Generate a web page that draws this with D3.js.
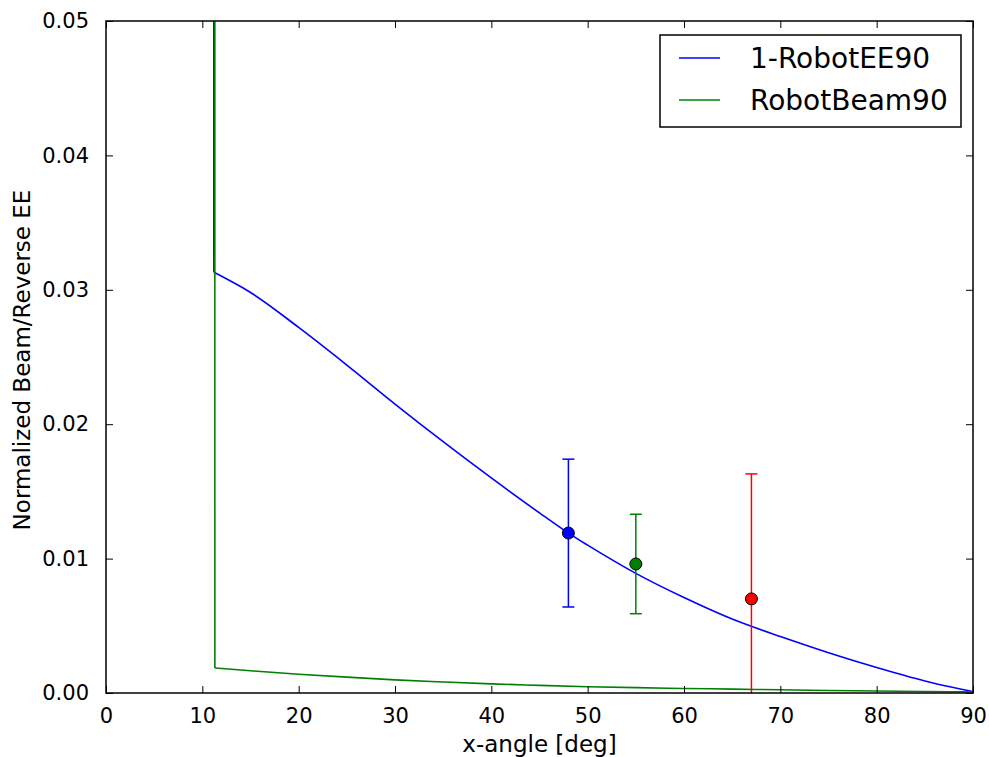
<!DOCTYPE html>
<html>
<head>
<meta charset="utf-8">
<script src="https://cdn.jsdelivr.net/npm/d3@7/dist/d3.min.js"></script>
<style>
  body { margin: 0; background: #ffffff; }
  text { font-family: "DejaVu Sans", sans-serif; fill: #000; }
</style>
</head>
<body>
<svg id="chart" width="989" height="757"></svg>
<script>
// Axis ticks
const xTicks = [0, 10, 20, 30, 40, 50, 60, 70, 80, 90];
const yTicks = [0, 0.01, 0.02, 0.03, 0.04, 0.05];
const yTickLabels = ["0.00", "0.01", "0.02", "0.03", "0.04", "0.05"];

// 1-RobotEE90 curve (angle in deg, value)
const eeAngle = [11.12, 11.2, 15, 20, 25, 30, 35, 40, 45, 48, 50, 55, 60, 65, 70, 75, 80, 85, 90];
const eeValue = [1.0, 0.0313, 0.0298, 0.0272, 0.0244, 0.0215, 0.0187, 0.0160, 0.0134, 0.0119, 0.0110, 0.0089, 0.0071, 0.0055, 0.0042, 0.0030, 0.0019, 0.0009, 0.0001];

// RobotBeam90 curve
const beamAngle = [11.22, 11.3, 15, 20, 25, 30, 35, 40, 45, 50, 55, 60, 65, 70, 75, 80, 85, 90];
const beamValue = [1.0, 0.00186, 0.00165, 0.00140, 0.00118, 0.00098, 0.00082, 0.00068, 0.00057, 0.00047, 0.00040, 0.00034, 0.00029, 0.00024, 0.00019, 0.00015, 0.00011, 0.00008];

// Measured points with symmetric error bars
const pointAngle = [48, 55, 67];
const pointValue = [0.0119, 0.0096, 0.0070];
const pointError = [0.0055, 0.0037, 0.0093];
const pointColor = ["#0000ff", "#008000", "#ff0000"];

// Legend entries
const seriesNames = ["1-RobotEE90", "RobotBeam90"];
const seriesColors = ["#0000ff", "#008000"];

const svg = d3.select("#chart");
const margin = { left: 106, top: 21, right: 16, bottom: 64 };
const W = 989 - margin.left - margin.right;
const H = 757 - margin.top - margin.bottom;

const x = d3.scaleLinear().domain([0, 90]).range([0, W]);
const y = d3.scaleLinear().domain([0, 0.05]).range([H, 0]);

const g = svg.append("g").attr("transform", `translate(${margin.left},${margin.top})`);

g.append("defs").append("clipPath").attr("id", "plotclip")
  .append("rect").attr("x", 0).attr("y", 0).attr("width", W).attr("height", H);

const plot = g.append("g").attr("clip-path", "url(#plotclip)");

const straight = d3.line().x(d => x(d[0])).y(d => y(d[1]));
const smooth = d3.line().x(d => x(d[0])).y(d => y(d[1])).curve(d3.curveMonotoneX);

// Each series: the steep drop at the cut-off angle, then the smooth tail
function drawSeries(angles, values, color) {
  const pts = d3.zip(angles, values);
  plot.append("path").datum(pts.slice(0, 2))
    .attr("d", straight).attr("fill", "none")
    .attr("stroke", color).attr("stroke-width", 1.6);
  plot.append("path").datum(pts.slice(1))
    .attr("d", smooth).attr("fill", "none")
    .attr("stroke", color).attr("stroke-width", 1.6);
}
drawSeries(eeAngle, eeValue, seriesColors[0]);
drawSeries(beamAngle, beamValue, seriesColors[1]);

// Error bars and markers
const pts = pointAngle.map((a, i) => ({ a, v: pointValue[i], e: pointError[i], c: pointColor[i] }));
const capHalf = 6;
const eb = plot.selectAll("g.eb").data(pts).enter().append("g").attr("class", "eb");
eb.append("line")
  .attr("x1", d => x(d.a)).attr("x2", d => x(d.a))
  .attr("y1", d => y(d.v - d.e)).attr("y2", d => y(d.v + d.e))
  .attr("stroke", d => d.c).attr("stroke-width", 1.5);
eb.append("line")
  .attr("x1", d => x(d.a) - capHalf).attr("x2", d => x(d.a) + capHalf)
  .attr("y1", d => y(d.v + d.e)).attr("y2", d => y(d.v + d.e))
  .attr("stroke", d => d.c).attr("stroke-width", 1.5);
eb.append("line")
  .attr("x1", d => x(d.a) - capHalf).attr("x2", d => x(d.a) + capHalf)
  .attr("y1", d => y(d.v - d.e)).attr("y2", d => y(d.v - d.e))
  .attr("stroke", d => d.c).attr("stroke-width", 1.5);
eb.append("circle")
  .attr("cx", d => x(d.a)).attr("cy", d => y(d.v)).attr("r", 6)
  .attr("fill", d => d.c).attr("stroke", "#000").attr("stroke-width", 1);

// Axes with inward ticks on all four sides
const tickLen = 7;
const fontSize = 21;
const titleSize = 23;

const xAxisB = g.append("g").attr("transform", `translate(0,${H})`)
  .call(d3.axisBottom(x).tickValues(xTicks).tickSizeInner(-tickLen).tickSizeOuter(0).tickPadding(tickLen + 8));
const xAxisT = g.append("g")
  .call(d3.axisTop(x).tickValues(xTicks).tickSizeInner(-tickLen).tickSizeOuter(0).tickFormat(""));
const yAxisL = g.append("g")
  .call(d3.axisLeft(y).tickValues(yTicks).tickSizeInner(-tickLen).tickSizeOuter(0)
    .tickPadding(tickLen + 10).tickFormat((d, i) => yTickLabels[i]));
const yAxisR = g.append("g").attr("transform", `translate(${W},0)`)
  .call(d3.axisRight(y).tickValues(yTicks).tickSizeInner(-tickLen).tickSizeOuter(0).tickFormat(""));

[xAxisB, xAxisT, yAxisL, yAxisR].forEach(a => {
  a.select(".domain").remove();
  a.selectAll(".tick line").attr("stroke", "#000").attr("stroke-width", 1);
  a.selectAll("text").attr("font-size", fontSize).attr("font-family", "DejaVu Sans, sans-serif");
});

// Frame
g.append("rect").attr("x", 0).attr("y", 0).attr("width", W).attr("height", H)
  .attr("fill", "none").attr("stroke", "#000").attr("stroke-width", 1.5);

// Axis titles
g.append("text")
  .attr("x", W / 2).attr("y", H + 59)
  .attr("text-anchor", "middle").attr("font-size", titleSize)
  .text("x-angle [deg]");
g.append("text")
  .attr("transform", `translate(${-76},${H / 2 + 3}) rotate(-90)`)
  .attr("text-anchor", "middle").attr("font-size", titleSize)
  .text("Normalized Beam/Reverse EE");

// Legend
const lg = svg.append("g").attr("transform", "translate(660,35)");
lg.append("rect").attr("x", 0).attr("y", 0).attr("width", 301).attr("height", 92)
  .attr("fill", "#fff").attr("stroke", "#000").attr("stroke-width", 1.5);
seriesNames.forEach((name, i) => {
  const cy = 23 + i * 42;
  lg.append("line").attr("x1", 19).attr("x2", 60).attr("y1", cy).attr("y2", cy)
    .attr("stroke", seriesColors[i]).attr("stroke-width", 1.6);
  lg.append("text").attr("x", 90).attr("y", cy).attr("dy", "0.36em")
    .attr("font-size", 28).text(name);
});
</script>
</body>
</html>
